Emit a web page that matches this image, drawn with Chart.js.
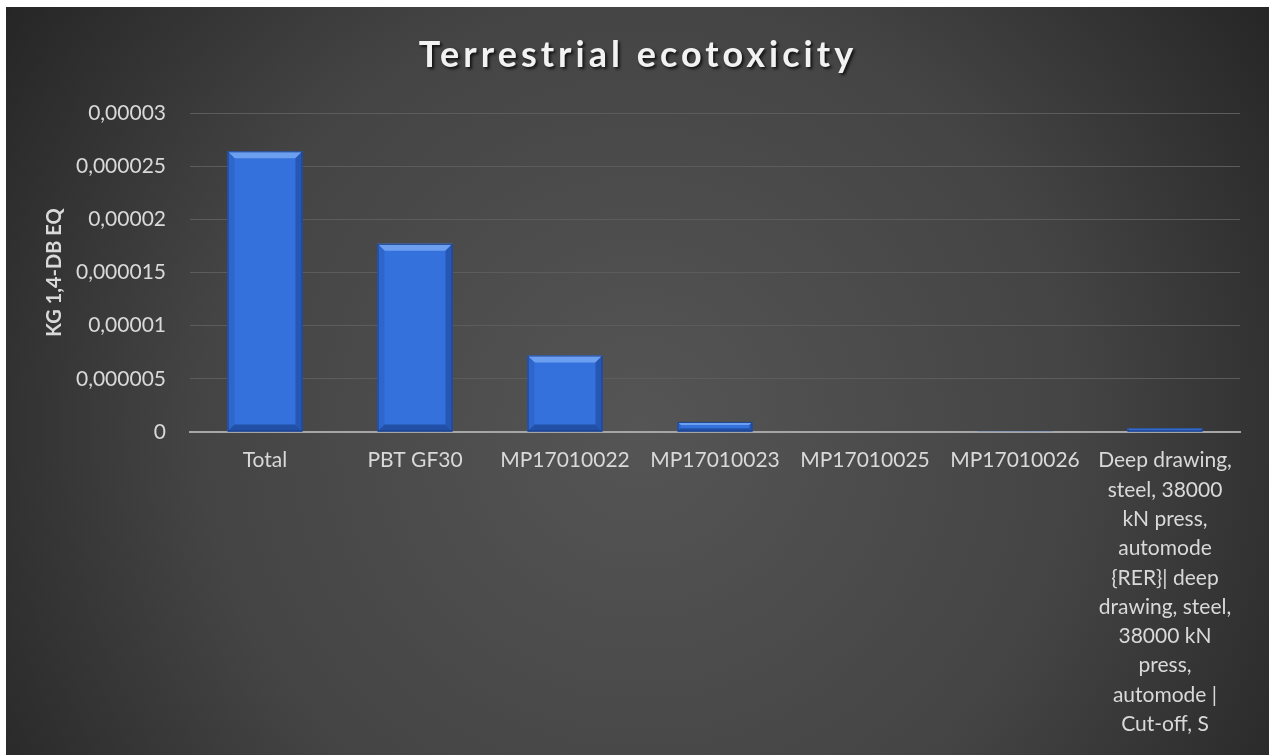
<!DOCTYPE html>
<html>
<head>
<meta charset="utf-8">
<script src="https://cdn.jsdelivr.net/npm/chart.js@4/dist/chart.umd.min.js"></script>
<style>
  html, body { margin: 0; padding: 0; background: #ffffff; }
  #wrap { width: 1269px; height: 755px; position: relative; }
</style>
</head>
<body>
<div id="wrap"><canvas id="c"></canvas></div>
<script>
// Categories (multi-line where the label wraps)
const categories = [
  'Total',
  'PBT GF30',
  'MP17010022',
  'MP17010023',
  'MP17010025',
  'MP17010026',
  ['Deep drawing,', 'steel, 38000', 'kN press,', 'automode', '{RER}| deep',
   'drawing, steel,', '38000 kN', 'press,', 'automode |', 'Cut-off, S']
];

// kg 1,4-DB eq per item
const values = [0.0000264, 0.0000177, 0.0000072, 0.00000095, 0.00000004, 0.00000003, 0.00000035];

// Y tick labels (ascending, comma decimal)
const yTickLabels = ['0', '0,000005', '0,00001', '0,000015', '0,00002', '0,000025', '0,00003'];

const titleText = 'Terrestrial ecotoxicity';
const yTitle = 'KG 1,4-DB EQ';

const FONT = 'Lato, "Open Sans", sans-serif';

// Dark radial backdrop with a thin white frame at top/left
const backdrop = {
  id: 'backdrop',
  beforeDraw(chart) {
    const { ctx, width, height } = chart;
    ctx.save();
    ctx.fillStyle = '#ffffff';
    ctx.fillRect(0, 0, width, height);
    const g = ctx.createRadialGradient(640, 430, 0, 640, 430, 800);
    g.addColorStop(0, '#555555');
    g.addColorStop(0.55, '#444444');
    g.addColorStop(1, '#222222');
    ctx.fillStyle = g;
    ctx.fillRect(6, 7, width - 6, height - 7);
    ctx.restore();
  }
};

// Bevelled look on each bar, using the bar geometry computed by the scales
const bevel = {
  id: 'bevel',
  afterDatasetsDraw(chart) {
    const { ctx } = chart;
    const meta = chart.getDatasetMeta(0);
    ctx.save();
    meta.data.forEach(bar => {
      const l = bar.x - bar.width / 2, r = bar.x + bar.width / 2;
      const t = Math.min(bar.y, bar.base), b = Math.max(bar.y, bar.base);
      const h = b - t;
      if (h < 1.5) return;
      const s = Math.min(7, h / 3);
      const poly = (pts, color) => {
        ctx.beginPath();
        ctx.moveTo(pts[0][0], pts[0][1]);
        for (let i = 1; i < pts.length; i++) ctx.lineTo(pts[i][0], pts[i][1]);
        ctx.closePath();
        ctx.fillStyle = color;
        ctx.fill();
      };
      poly([[l, t], [r, t], [r - s, t + s], [l + s, t + s]], '#6d9ff0');
      poly([[l, t], [l + s, t + s], [l + s, b - s], [l, b]], '#2f66cc');
      poly([[r, t], [r - s, t + s], [r - s, b - s], [r, b]], '#2657b4');
      poly([[l, b], [l + s, b - s], [r - s, b - s], [r, b]], '#2150a6');
      ctx.strokeStyle = '#1b3f86';
      ctx.lineWidth = 1;
      ctx.strokeRect(l + 0.5, t + 0.5, r - l - 1, h - 1);
    });
    ctx.restore();
  }
};

// Chart heading with letter spacing and a soft drop shadow
const heading = {
  id: 'heading',
  afterDraw(chart) {
    const { ctx } = chart;
    ctx.save();
    ctx.font = 'bold 36px ' + FONT;
    if ('letterSpacing' in ctx) ctx.letterSpacing = '4px';
    ctx.textAlign = 'center';
    ctx.textBaseline = 'middle';
    ctx.shadowColor = 'rgba(0,0,0,0.75)';
    ctx.shadowOffsetX = 2;
    ctx.shadowOffsetY = 2;
    ctx.shadowBlur = 3;
    ctx.fillStyle = '#f2f2f2';
    ctx.fillText(titleText, 638, 55);
    ctx.restore();
  }
};

new Chart(document.getElementById('c'), {
  type: 'bar',
  data: {
    labels: categories,
    datasets: [{
      data: values,
      backgroundColor: '#3471dc',
      borderWidth: 0,
      barPercentage: 0.5,
      categoryPercentage: 1.0
    }]
  },
  options: {
    responsive: true,
    maintainAspectRatio: false,
    animation: false,
    devicePixelRatio: 1,
    layout: { padding: { left: 40, right: 29, top: 113, bottom: 0 } },
    plugins: {
      legend: { display: false },
      title: { display: false },
      tooltip: { enabled: false }
    },
    scales: {
      x: {
        grid: { display: false, drawTicks: false },
        border: { display: true, color: '#a6a6a6', width: 2 },
        ticks: {
          color: '#d9d9d9',
          font: { family: FONT, size: 21, lineHeight: 1.395 },
          padding: 14,
          maxRotation: 0,
          minRotation: 0,
          autoSkip: false
        },
        afterFit(scale) { scale.height = 323; }
      },
      y: {
        min: 0,
        max: 0.00003,
        grid: { color: '#5c5c5c', lineWidth: 1, drawTicks: false },
        border: { display: false },
        ticks: {
          stepSize: 0.000005,
          color: '#d9d9d9',
          font: { family: FONT, size: 21 },
          padding: 24,
          callback: (v, i) => yTickLabels[i]
        },
        title: {
          display: true,
          text: yTitle,
          color: '#d9d9d9',
          font: { family: FONT, size: 20, weight: 'bold' },
          padding: { top: 3, bottom: 0 }
        },
        afterFit(scale) { scale.width = 150; }
      }
    }
  },
  plugins: [backdrop, bevel, heading]
});
</script>
</body>
</html>
